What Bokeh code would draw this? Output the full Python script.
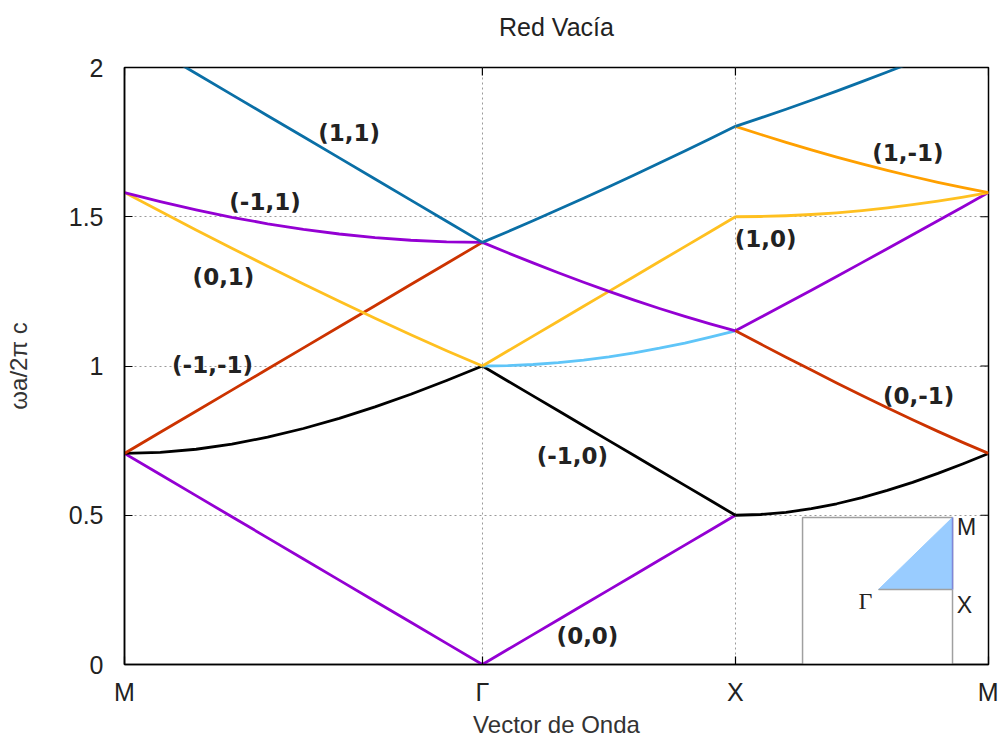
from bokeh.plotting import figure
from bokeh.models import FixedTicker, Range1d, LinearAxis
from bokeh.embed import file_html
from bokeh.resources import INLINE
from bokeh.core.properties import value

# ---- data: path coordinate along M -> Gamma -> X -> M (units of 2*pi/a) ----
x_MG = [0.0, 0.0707, 0.1414, 0.2121, 0.2828, 0.3536, 0.4243, 0.4950, 0.5657, 0.6364, 0.7071]
x_GX = [0.7071, 0.7571, 0.8071, 0.8571, 0.9071, 0.9571, 1.0071, 1.0571, 1.1071, 1.1571, 1.2071]
x_XM = [1.2071, 1.2571, 1.3071, 1.3571, 1.4071, 1.4571, 1.5071, 1.5571, 1.6071, 1.6571, 1.7071]

# segment M -> Gamma
MG_purple_low = [0.7071, 0.6364, 0.5657, 0.4950, 0.4243, 0.3536, 0.2828, 0.2121, 0.1414, 0.0707, 0.0]
MG_black = [0.7071, 0.7106, 0.7211, 0.7382, 0.7616, 0.7906, 0.8246, 0.8631, 0.9055, 0.9513, 1.0]
MG_red = [0.7071, 0.7778, 0.8485, 0.9192, 0.9899, 1.0607, 1.1314, 1.2021, 1.2728, 1.3435, 1.4142]
MG_yellow = [1.5811, 1.5182, 1.4560, 1.3946, 1.3342, 1.2748, 1.2166, 1.1597, 1.1045, 1.0512, 1.0]
MG_purple_up = [1.5811, 1.5508, 1.5232, 1.4983, 1.4765, 1.4577, 1.4422, 1.4300, 1.4213, 1.4160, 1.4142]
MG_blue = [2.1213, 2.0506, 1.9799, 1.9092, 1.8385, 1.7678, 1.6971, 1.6263, 1.5556, 1.4849, 1.4142]

# segment Gamma -> X
GX_purple_low = [0.0, 0.05, 0.10, 0.15, 0.20, 0.25, 0.30, 0.35, 0.40, 0.45, 0.50]
GX_black = [1.0, 0.95, 0.90, 0.85, 0.80, 0.75, 0.70, 0.65, 0.60, 0.55, 0.50]
GX_lightblue = [1.0, 1.0012, 1.0050, 1.0112, 1.0198, 1.0308, 1.0440, 1.0595, 1.0770, 1.0966, 1.1180]
GX_yellow = [1.0, 1.05, 1.10, 1.15, 1.20, 1.25, 1.30, 1.35, 1.40, 1.45, 1.50]
GX_purple_up = [1.4142, 1.3793, 1.3454, 1.3124, 1.2806, 1.2500, 1.2207, 1.1927, 1.1662, 1.1413, 1.1180]
GX_blue = [1.4142, 1.4500, 1.4866, 1.5240, 1.5620, 1.6008, 1.6401, 1.6801, 1.7205, 1.7614, 1.8028]

# segment X -> M
XM_black = [0.5, 0.5025, 0.5099, 0.5220, 0.5385, 0.5590, 0.5831, 0.6103, 0.6403, 0.6727, 0.7071]
XM_purple = [1.1180, 1.1630, 1.2083, 1.2540, 1.3000, 1.3463, 1.3928, 1.4396, 1.4866, 1.5338, 1.5811]
XM_red = [1.1180, 1.0735, 1.0296, 0.9862, 0.9434, 0.9014, 0.8602, 0.8201, 0.7810, 0.7433, 0.7071]
XM_yellow = [1.5, 1.5008, 1.5033, 1.5075, 1.5133, 1.5207, 1.5297, 1.5403, 1.5524, 1.5660, 1.5811]
XM_orange = [1.8028, 1.7755, 1.7493, 1.7241, 1.7000, 1.6771, 1.6553, 1.6348, 1.6155, 1.5977, 1.5811]
XM_blue = [1.8028, 1.8310, 1.8601, 1.8901, 1.9209, 1.9526, 1.9849, 2.0180, 2.0518, 2.0863, 2.1213]

# tick labels
x_tick_labels = ["M", "Γ", "X", "M"]
y_ticks = [0, 0.5, 1, 1.5, 2]
y_tick_labels = ["0", "0.5", "1", "1.5", "2"]

# band annotations
band_labels = ["(1,1)", "(-1,1)", "(0,1)", "(-1,-1)", "(-1,0)", "(0,0)", "(1,0)", "(1,-1)", "(0,-1)"]

TITLE = "Red Vacía"
X_LABEL = "Vector de Onda"
Y_LABEL = "ωa/2π c"

# ---- styles / positions ----
C_PURPLE = "#9400d3"
C_BLACK = "#000000"
C_RED = "#cc3300"
C_YELLOW = "#ffc020"
C_LBLUE = "#5fc5f8"
C_BLUE = "#0a6fa6"
C_ORANGE = "#ffa000"
LW = 2.8

label_pos_x = [0.4436, 0.2776, 0.1956, 0.1739, 0.885, 0.9148, 1.2666, 1.548, 1.569]
label_pos_y = [1.779, 1.548, 1.297, 1.005, 0.697, 0.097, 1.427, 1.712, 0.901]

AX_FONT = "Liberation Sans"
LAB_FONT = "DejaVu Sans"

FRAME_W, FRAME_H = 864, 597
TICK_LEN = 8

x_ticks = [x_MG[0], x_GX[0], x_XM[0], x_XM[-1]]
x_lo, x_hi = x_ticks[0], x_ticks[-1]
y_lo, y_hi = y_ticks[0], y_ticks[-1]
px_x = (x_hi - x_lo) / FRAME_W   # data units per pixel
px_y = (y_hi - y_lo) / FRAME_H

p = figure(width=998, height=745,
           x_range=Range1d(x_lo, x_hi), y_range=Range1d(y_lo, y_hi),
           output_backend="svg", toolbar_location=None,
           min_border_left=124, min_border_right=10, min_border_top=67, min_border_bottom=81)

p.background_fill_color = "white"
p.border_fill_color = "white"
p.outline_line_color = "black"
p.outline_line_width = 1.5
p.title.visible = False

# axes
xa = p.xaxis[0]
xa.ticker = FixedTicker(ticks=x_ticks)
xa.major_label_overrides = {t: s for t, s in zip(x_ticks, x_tick_labels)}
xa.axis_label = X_LABEL
ya = p.yaxis[0]
ya.ticker = FixedTicker(ticks=y_ticks)
ya.major_label_overrides = {t: s for t, s in zip(y_ticks, y_tick_labels)}
ya.axis_label = Y_LABEL

for ax in (xa, ya):
    ax.major_tick_in = TICK_LEN
    ax.major_tick_out = 0
    ax.minor_tick_line_color = None
    ax.axis_line_color = "black"
    ax.axis_line_width = 1.5
    ax.major_tick_line_width = 1.2
    ax.major_label_text_font = AX_FONT
    ax.major_label_text_font_size = "25px"
    ax.major_label_text_color = "#222222"
    ax.axis_label_text_font = AX_FONT
    ax.axis_label_text_font_size = "24px"
    ax.axis_label_text_font_style = "normal"
    ax.axis_label_text_color = "#333333"

xa.major_label_standoff = 13
xa.axis_label_standoff = 2
ya.major_label_standoff = 21
ya.axis_label_standoff = 34

# title: carried by an above axis without ticks so that it sits 40px above the frame
ta = LinearAxis(ticker=FixedTicker(ticks=[]), axis_label=TITLE)
ta.axis_line_color = None
ta.major_tick_in = 0
ta.major_tick_out = 0
ta.minor_tick_line_color = None
ta.major_label_standoff = 0
ta.axis_label_standoff = 27
ta.axis_label_text_font = AX_FONT
ta.axis_label_text_font_size = "25px"
ta.axis_label_text_font_style = "normal"
ta.axis_label_text_color = "#222222"
p.add_layout(ta, "above")

# mirror ticks on right and top edges (inward)
dx = TICK_LEN * px_x
dy = TICK_LEN * px_y
p.segment(x0=[x_hi] * len(y_ticks), y0=y_ticks, x1=[x_hi - dx] * len(y_ticks), y1=y_ticks,
          line_color="black", line_width=1.2)
p.segment(x0=x_ticks, y0=[y_hi] * len(x_ticks), x1=x_ticks, y1=[y_hi - dy] * len(x_ticks),
          line_color="black", line_width=1.2)

# grid
for g in (p.xgrid[0], p.ygrid[0]):
    g.grid_line_color = "#9a9a9a"
    g.grid_line_dash = "2 3"
    g.grid_line_width = 1
p.xgrid[0].ticker = FixedTicker(ticks=x_ticks)
p.ygrid[0].ticker = FixedTicker(ticks=y_ticks)

# bands
segments = [
    (x_MG, MG_purple_low, C_PURPLE), (x_MG, MG_black, C_BLACK), (x_MG, MG_red, C_RED),
    (x_MG, MG_yellow, C_YELLOW), (x_MG, MG_purple_up, C_PURPLE), (x_MG, MG_blue, C_BLUE),
    (x_GX, GX_purple_low, C_PURPLE), (x_GX, GX_black, C_BLACK), (x_GX, GX_lightblue, C_LBLUE),
    (x_GX, GX_yellow, C_YELLOW), (x_GX, GX_purple_up, C_PURPLE), (x_GX, GX_blue, C_BLUE),
    (x_XM, XM_black, C_BLACK), (x_XM, XM_purple, C_PURPLE), (x_XM, XM_red, C_RED),
    (x_XM, XM_yellow, C_YELLOW), (x_XM, XM_orange, C_ORANGE), (x_XM, XM_blue, C_BLUE),
]
for xs, ys, c in segments:
    p.line(xs, ys, line_color=c, line_width=LW, line_join="round")

# band labels
p.text(x=label_pos_x, y=label_pos_y, text=band_labels,
       text_font=value(LAB_FONT), text_font_style="bold", text_font_size="23px",
       text_color="#222222", text_align="center", text_baseline="middle")

# inset: Brillouin zone sketch
bx0, bx1, by0, by1 = 1.3397, 1.6360, 0.0, 0.4925
p.quad(left=[bx0], right=[bx1], bottom=[by0], top=[by1],
       fill_color="white", line_color="#a0a0a0", line_width=1.5)
gx, gy = 1.4898, 0.2513
p.patch([gx, bx1, bx1], [gy, gy, by1], fill_color="#99ccff", line_color="#99ccff", line_width=1)
p.line([gx, bx1], [gy, gy], line_color="#a0a0a0", line_width=1.5)
p.line([bx1, bx1], [gy, by1], line_color="#7f86d8", line_width=1.5)
p.text(x=[1.464], y=[0.2144], text=["Γ"], text_font=value("Liberation Serif"),
       text_font_size="24px", text_color="#222222", text_align="center", text_baseline="middle")
p.text(x=[1.6597, 1.6637], y=[0.1977, 0.459], text=["X", "M"], text_font=value(AX_FONT),
       text_font_size="23px", text_color="#222222", text_align="center", text_baseline="middle")

open("out.html", "w").write(file_html(p, INLINE))
